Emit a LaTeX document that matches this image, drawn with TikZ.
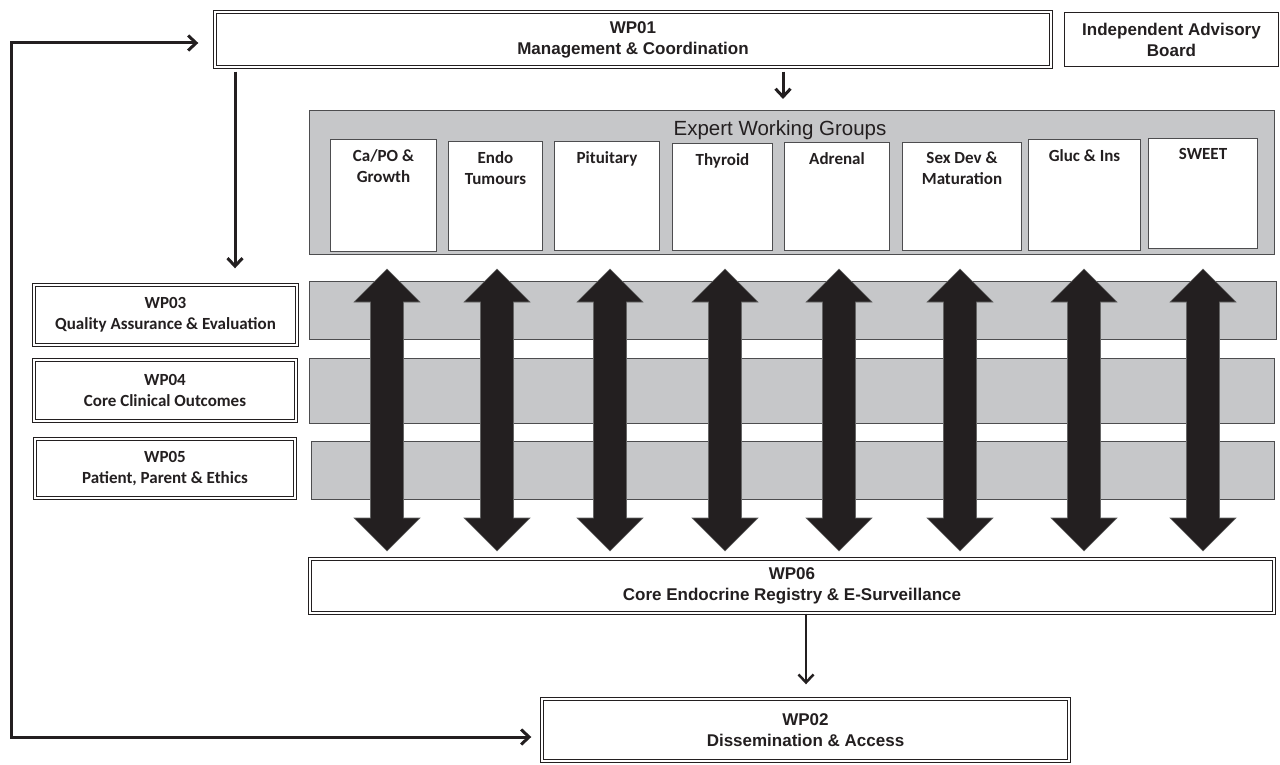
\documentclass[tikz,border=0pt]{standalone}
\usepackage{fontspec}
\setmainfont{Liberation Sans}
\newfontfamily\calfont{Carlito}
\usetikzlibrary{arrows.meta,calc}
\definecolor{ink}{HTML}{231F20}
\definecolor{panel}{HTML}{C6C7C9}
\definecolor{edge}{HTML}{4D4D4F}
\newcommand{\arialtxt}{\bfseries\fontsize{17}{21}\selectfont}
\newcommand{\caltxt}{\calfont\bfseries\fontsize{17}{21}\selectfont}
\begin{document}
\begin{tikzpicture}[x=1pt,y=-1pt,
  >={Straight Barb[length=8pt,width=15pt]},
  dbl/.style={draw=ink, double=white, double distance=1.4pt, line width=1.2pt,
    fill=white, inner sep=0pt, align=center, text=ink},
  sgl/.style={draw=ink, line width=1.2pt, fill=white, inner sep=0pt, align=center, text=ink},
  panelbox/.style={draw=edge, line width=1.1pt, fill=panel, inner sep=0pt},
  grpbox/.style={draw=edge, line width=1.2pt, fill=white, inner sep=0pt},
  grptxt/.style={font=\caltxt, text=ink, align=center, inner sep=0pt, anchor=north},
  conn/.style={draw=ink, line width=3pt},
  fatarrow/.pic={\filldraw[fill=ink, draw=black!60, line width=0.6pt]
    (0,269) -- (33,302) -- (16.5,302) -- (16.5,518) -- (33,518) -- (0,551)
    -- (-33,518) -- (-16.5,518) -- (-16.5,302) -- (-33,302) -- cycle;}
]
\useasboundingbox (0,0) rectangle (1280,765);

% top row
\node[dbl, font=\arialtxt, minimum width=836.2, minimum height=55.2] (wp01) at (633,39.5)
  {WP01\\Management \& Coordination};
\node[sgl, font=\arialtxt, minimum width=213.8, minimum height=53.8] (adv) at (1171.5,39.5)
  {Independent Advisory\\Board};

% expert working groups panel
\node[panelbox, minimum width=965, minimum height=144] (ewg) at (792,182.5) {};
\node[font=\fontsize{20.5}{24}\selectfont, text=ink, inner sep=0pt] (ewgt) at (780,130) {Expert Working Groups};

\node[grpbox, minimum width=106, minimum height=112] (g1) at (383.5,195.5) {};
\node[grpbox, minimum width=94, minimum height=109] (g2) at (495.5,196) {};
\node[grpbox, minimum width=105, minimum height=109] (g3) at (607,196) {};
\node[grpbox, minimum width=100, minimum height=107] (g4) at (722.5,197) {};
\node[grpbox, minimum width=105, minimum height=108] (g5) at (837,196.5) {};
\node[grpbox, minimum width=119, minimum height=108] (g6) at (962,196.5) {};
\node[grpbox, minimum width=112, minimum height=111] (g7) at (1084.5,195) {};
\node[grpbox, minimum width=109, minimum height=110] (g8) at (1203,193.5) {};
\node[grptxt] (g1t) at ([yshift=-10pt]g1.north) {Ca/PO \&\\Growth};
\node[grptxt] (g2t) at ([yshift=-10pt]g2.north) {Endo\\Tumours};
\node[grptxt] (g3t) at ([yshift=-10pt]g3.north) {Pituitary};
\node[grptxt] (g4t) at ([yshift=-10pt]g4.north) {Thyroid};
\node[grptxt] (g5t) at ([yshift=-10pt]g5.north) {Adrenal};
\node[grptxt] (g6t) at ([yshift=-10pt]g6.north) {Sex Dev \&\\Maturation};
\node[grptxt] (g7t) at ([yshift=-10pt]g7.north) {Gluc \& Ins};
\node[grptxt] (g8t) at ([yshift=-10pt]g8.north) {SWEET};

% work package rows
\node[panelbox, minimum width=967, minimum height=58] (row1) at (793,310.5) {};
\node[panelbox, minimum width=965, minimum height=65] (row2) at (792,391) {};
\node[panelbox, minimum width=963, minimum height=58] (row3) at (793,470.5) {};

\node[dbl, font=\caltxt, minimum width=263.2, minimum height=60.2] (wp03) at (165.5,315)
  {WP03\\Quality Assurance \& Evaluation};
\node[dbl, font=\caltxt, minimum width=262.2, minimum height=61.2] (wp04) at (165,390.5)
  {WP04\\Core Clinical Outcomes};
\node[dbl, font=\caltxt, minimum width=260.2, minimum height=59.2] (wp05) at (165,468.5)
  {WP05\\Patient, Parent \& Ethics};

% bidirectional fat arrows
\foreach \cx in {387,497,610,725,839,960,1084,1203}
  \pic at (\cx,0) {fatarrow};

% bottom boxes
\node[dbl, font=\arialtxt, minimum width=964.2, minimum height=54.2] (wp06) at (792,586)
  {WP06\\Core Endocrine Registry \& E-Surveillance};
\node[dbl, font=\arialtxt, minimum width=527.2, minimum height=62.2] (wp02) at (805.5,730)
  {WP02\\Dissemination \& Access};

% connectors
\coordinate (t1) at (783,0);
\coordinate (t2) at (235,0);
\coordinate (l1) at (11,43);
\coordinate (l2) at (11,737);
\coordinate (wp06x) at (806,0);

\draw[conn, ->, shorten <=4pt, shorten >=11pt] (wp01.south -| t1) -- (ewg.north -| t1);
\draw[conn, ->, shorten <=4pt, shorten >=16pt] (wp01.south -| t2) -- (wp03.north -| t2);
\draw[conn, line width=2.5pt, ->, shorten >=14pt] (wp06.south -| wp06x) -- (wp02.north -| wp06x);
\draw[conn, <->, line join=miter, shorten <=16pt, shorten >=10pt]
  (wp01.west |- l1) -- (l1) -- (l2) -- (wp02.west |- l2);
\end{tikzpicture}
\end{document}
